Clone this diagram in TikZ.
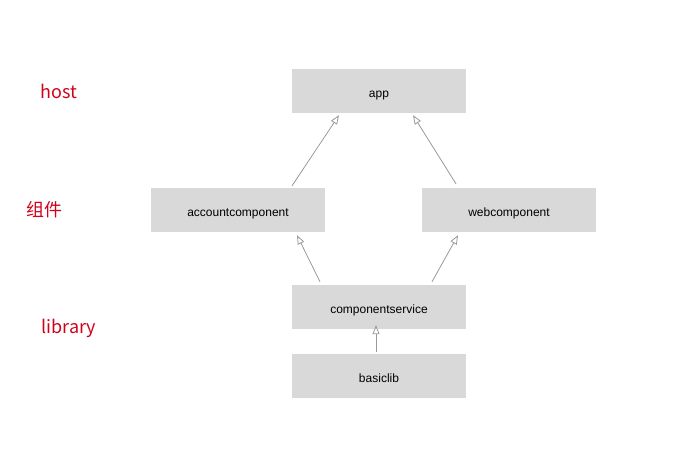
\documentclass[tikz,border=0pt]{standalone}
\usepackage{fontspec}
\setmainfont{Liberation Sans}
\newfontfamily\cjkfont{Noto Sans CJK SC}
\usetikzlibrary{arrows.meta}
\definecolor{boxgray}{HTML}{D9D9D9}
\definecolor{linegray}{HTML}{999999}
\definecolor{layerred}{HTML}{D0021B}
\tikzset{
  module/.style={fill=boxgray, minimum width=174pt, minimum height=44pt, inner sep=0pt, text height=13pt, text depth=0pt, font=\fontsize{12}{14}\selectfont},
  layer/.style={text=layerred, font=\cjkfont\fontsize{18}{20}\selectfont},
  dep/.style={draw=linegray, line width=0.8pt, -{Triangle[open, length=9pt, width=7pt]}}
}
\begin{document}
\begin{tikzpicture}[x=1pt, y=-1pt]
\useasboundingbox (0,0) rectangle (678,460);
% layers
\node[layer] (host) at (59,91) {host};
\node[layer] (comp) at (45,210) {组件};
\node[layer] (lib) at (69,328) {library};

% modules
\node[module] (app) at (379,91) {app};
\node[module] (account) at (238,210) {accountcomponent};
\node[module] (web) at (509,210) {webcomponent};
\node[module] (service) at (379,307) {componentservice};
\node[module] (basic) at (379,376) {basiclib};

% dependencies
\draw[dep] ([shift={(54,-2)}]account.north) -- ([shift={(-40,2)}]app.south);
\draw[dep] ([shift={(-53,-4)}]web.north) -- ([shift={(34,2)}]app.south);
\draw[dep] ([shift={(-59,-3)}]service.north) -- ([shift={(59,3)}]account.south);
\draw[dep] ([shift={(53,-3)}]service.north) -- ([shift={(-51,3)}]web.south);
\draw[dep] ([shift={(-3,-2)}]basic.north) -- ([shift={(-3,-4)}]service.south);
\end{tikzpicture}
\end{document}
